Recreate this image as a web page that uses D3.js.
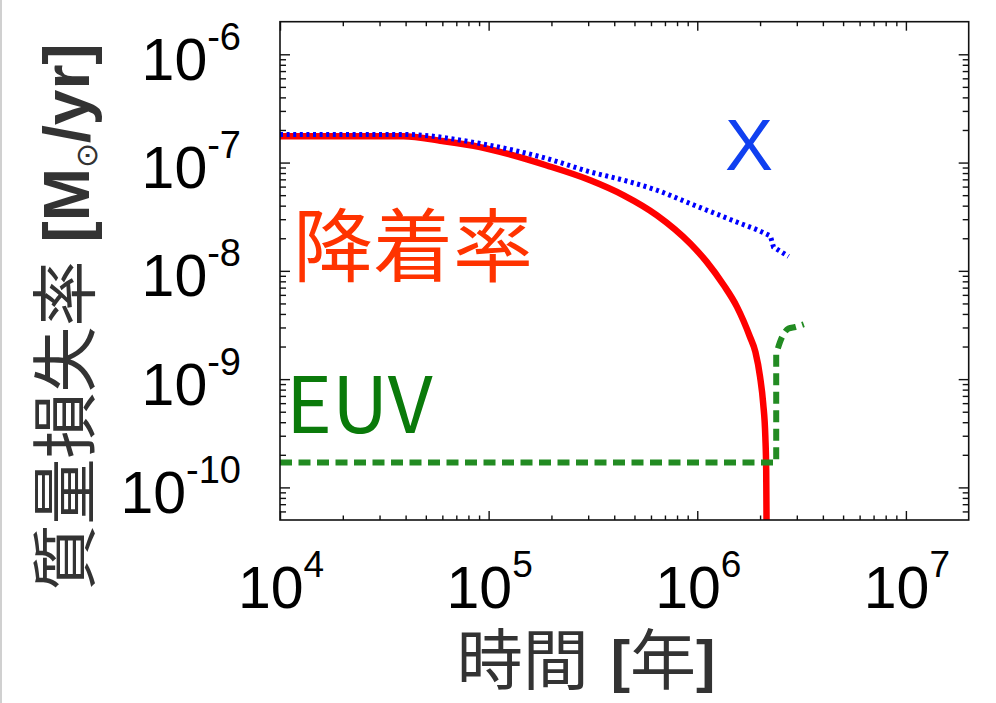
<!DOCTYPE html>
<html>
<head>
<meta charset="utf-8">
<script src="https://cdn.jsdelivr.net/npm/d3@7"></script>
<style>
  html, body { margin: 0; padding: 0; background: #fff; }
  svg { display: block; }
</style>
</head>
<body>
<svg id="chart" width="996" height="703"></svg>
<script>
// ---------- data ----------
const xMajorTicks = [1e4, 1e5, 1e6, 1e7];
const xTickExponents = ["4", "5", "6", "7"];
const yMajorTicks = [1e-6, 1e-7, 1e-8, 1e-9, 1e-10];
const yTickExponents = ["-6", "-7", "-8", "-9", "-10"];
const minorMultipliers = [2, 3, 4, 5, 6, 7, 8, 9];

// accretion rate (red, solid)
const accretionT = [1e4, 3.9e4, 6.0e4, 9.1e4, 1.9e5, 3.07e5, 4.44e5, 6.41e5, 9.25e5, 1.11e6, 1.34e6, 1.55e6, 1.79e6, 1.90e6, 2.0e6, 2.07e6, 2.12e6, 2.14e6, 2.16e6];
const accretionR = [1.75e-7, 1.75e-7, 1.58e-7, 1.39e-7, 9.4e-8, 6.87e-8, 4.99e-8, 3.26e-8, 1.79e-8, 1.21e-8, 7.36e-9, 4.65e-9, 2.45e-9, 1.78e-9, 1.05e-9, 5.96e-10, 2.92e-10, 1.44e-10, 1e-11];

// X-ray photoevaporation (blue, dotted)
const xrayT = [1e4, 3.9e4, 9.1e4, 1.9e5, 3.07e5, 4.44e5, 6.41e5, 9.25e5, 1.34e6, 1.61e6, 1.93e6, 2.24e6, 2.32e6, 2.74e6];
const xrayR = [1.82e-7, 1.82e-7, 1.5e-7, 1.09e-7, 8.2e-8, 6.87e-8, 5.55e-8, 4.18e-8, 3.15e-8, 2.74e-8, 2.4e-8, 2.1e-8, 1.66e-8, 1.36e-8];

// EUV photoevaporation (green, dashed)
const euvT = [1e4, 2.39e6, 2.39e6, 2.55e6, 2.74e6, 2.95e6, 3.24e6];
const euvR = [1.7e-10, 1.7e-10, 1.72e-9, 2.45e-9, 2.93e-9, 3.03e-9, 3.21e-9];

const labels = { xray: "X", accretion: "降着率", euv: "EUV" };
const xTitle = ["時間", "[", "年", "]"];
const yTitle = ["質量損失率", "[M", "⊙", "/yr]"];

// ---------- layout ----------
const svg = d3.select("#chart");
const L = 280, R = 968.7, T = 21.7, B = 520;
const x = d3.scaleLog().domain([1e4, 2e7]).range([L, R]);
const y = d3.scaleLog().domain([5e-11, 2e-6]).range([B, T]);

const latin = "'Liberation Sans', Arial, Helvetica, sans-serif";
const cjk = "'Noto Sans CJK JP', 'Noto Sans CJK SC', sans-serif";

// faint left border of the original image
svg.append("line").attr("x1", 1).attr("x2", 1).attr("y1", 0).attr("y2", 703)
  .attr("stroke", "#d0d0d0").attr("stroke-width", 2);

function minors(majors, dom) {
  const out = [];
  majors.forEach(m => {
    minorMultipliers.forEach(k => {
      const v = m * k;
      if (v > dom[0] * 1.0001 && v < dom[1] * 0.9999) out.push(v);
    });
  });
  return out;
}
const xMinor = minors([1e3].concat(xMajorTicks), x.domain());
const yMinor = minors([1e-11].concat(yMajorTicks.slice().reverse()), y.domain());

function drawAxis(gen, tr, vals, size) {
  const g = svg.append("g").attr("transform", tr)
    .call(gen.tickValues(vals).tickSizeInner(size).tickSizeOuter(0).tickFormat(""));
  g.select(".domain").remove();
  g.selectAll(".tick line").attr("stroke", "#111").attr("stroke-width", 1.4);
}
drawAxis(d3.axisBottom(x), `translate(0,${B})`, xMinor, -4.5);
drawAxis(d3.axisBottom(x), `translate(0,${B})`, xMajorTicks, -9);
drawAxis(d3.axisTop(x), `translate(0,${T})`, xMinor, -4.5);
drawAxis(d3.axisTop(x), `translate(0,${T})`, xMajorTicks, -9);
drawAxis(d3.axisLeft(y), `translate(${L},0)`, yMinor, -6);
drawAxis(d3.axisLeft(y), `translate(${L},0)`, yMajorTicks, -10);
drawAxis(d3.axisRight(y), `translate(${R},0)`, yMinor, -6);
drawAxis(d3.axisRight(y), `translate(${R},0)`, yMajorTicks, -10);

svg.append("clipPath").attr("id", "plotclip").append("rect")
  .attr("x", L).attr("y", T).attr("width", R - L).attr("height", B - T);

const lineGen = d3.line().x(d => x(d[0])).y(d => y(d[1])).curve(d3.curveMonotoneX);
const lineLin = d3.line().x(d => x(d[0])).y(d => y(d[1]));
const plot = svg.append("g").attr("clip-path", "url(#plotclip)");
const stripM = s => s.replace(/^M[^A-Za-z]*/, "");

// red accretion
plot.append("path").datum(accretionT.map((t, i) => [t, accretionR[i]]))
  .attr("d", lineGen).attr("fill", "none").attr("stroke", "#ff0000").attr("stroke-width", 6.5);

// green EUV: straight horizontal + vertical, then curved top
const euvPts = euvT.map((t, i) => [t, euvR[i]]);
plot.append("path").attr("d", lineLin(euvPts.slice(0, 3)) + stripM(lineGen(euvPts.slice(2))))
  .attr("fill", "none").attr("stroke", "#228b22").attr("stroke-width", 6)
  .attr("stroke-dasharray", "12,6.5");

// blue X-ray: smooth, then sharp drop segment
const xrPts = xrayT.map((t, i) => [t, xrayR[i]]);
plot.append("path").attr("d", lineGen(xrPts.slice(0, 12)) + stripM(lineLin(xrPts.slice(11))))
  .attr("fill", "none").attr("stroke", "#0000ff").attr("stroke-width", 5)
  .attr("stroke-dasharray", "3,3.6");

// frame
svg.append("rect").attr("x", L).attr("y", T).attr("width", R - L).attr("height", B - T)
  .attr("fill", "none").attr("stroke", "#111").attr("stroke-width", 1.6);

// tick labels
xMajorTicks.forEach((v, i) => {
  const t = svg.append("text").attr("x", x(v) + 1).attr("y", B + 88)
    .attr("text-anchor", "middle").attr("font-family", latin).attr("fill", "#000");
  t.append("tspan").attr("font-size", 59).text("10");
  t.append("tspan").attr("font-size", 37).attr("dy", -31).text(xTickExponents[i]);
});
yMajorTicks.forEach((v, i) => {
  const t = svg.append("text").attr("x", 241).attr("y", y(v) + 25.5)
    .attr("text-anchor", "end").attr("font-family", latin).attr("fill", "#000");
  t.append("tspan").attr("font-size", 59).text("10");
  t.append("tspan").attr("font-size", 38).attr("dy", -30).text(yTickExponents[i]);
});

// annotations
svg.append("text").attr("x", 749).attr("y", 170).attr("text-anchor", "middle")
  .attr("font-family", latin).attr("font-size", 72).attr("fill", "#1040f0").text(labels.xray);
svg.append("text").attr("x", 293).attr("y", 275)
  .attr("font-family", cjk).attr("font-size", 80).attr("fill", "#ff3300").text(labels.accretion);
svg.append("text").attr("x", 286).attr("y", 433)
  .attr("font-family", cjk).attr("font-size", 78).attr("fill", "#0a7a0a").text(labels.euv);

// axis titles
const xt = svg.append("text").attr("x", 586).attr("y", 684).attr("text-anchor", "middle")
  .attr("fill", "#333");
xt.append("tspan").attr("font-family", cjk).attr("font-size", 66).text(xTitle[0]);
xt.append("tspan").attr("font-family", latin).attr("font-size", 58).attr("font-weight", "bold").attr("dx", 22).attr("dy", -3).text(xTitle[1]);
xt.append("tspan").attr("font-family", cjk).attr("font-size", 66).attr("dy", 3).text(xTitle[2]);
xt.append("tspan").attr("font-family", latin).attr("font-size", 58).attr("font-weight", "bold").attr("dy", -3).text(xTitle[3]);

const yt = svg.append("text").attr("transform", "translate(89,317) rotate(-90)")
  .attr("text-anchor", "middle").attr("fill", "#333");
yt.append("tspan").attr("font-family", cjk).attr("font-size", 66).text(yTitle[0]);
yt.append("tspan").attr("font-family", latin).attr("font-size", 64).attr("font-weight", "bold").attr("dx", 18).text(yTitle[1]);
yt.append("tspan").attr("font-family", latin).attr("font-size", 30).attr("dy", 8).text(yTitle[2]);
yt.append("tspan").attr("font-family", latin).attr("font-size", 64).attr("font-weight", "bold").attr("dy", -8).text(yTitle[3]);
</script>
</body>
</html>
